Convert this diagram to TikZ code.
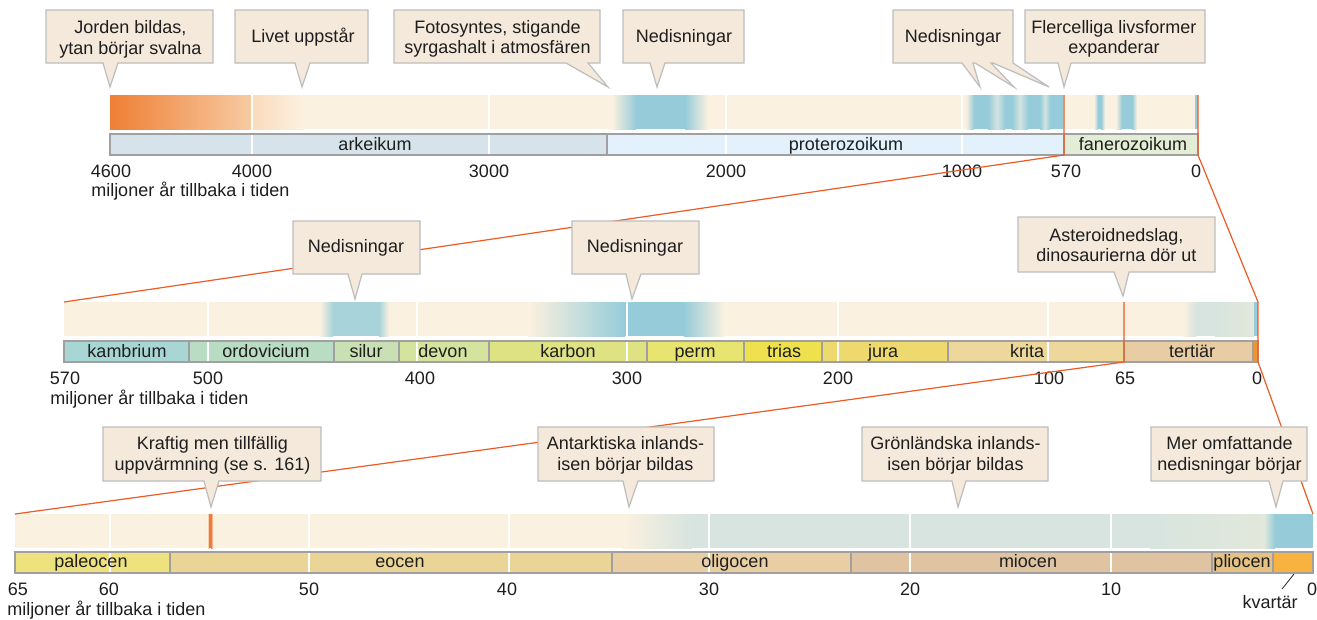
\documentclass[tikz,border=0pt]{standalone}
\usepackage{fontspec}
\setmainfont{Liberation Sans}
\definecolor{bandbg}{HTML}{FBF1E0}
\definecolor{ice}{HTML}{96CCD9}
\definecolor{icetwo}{HTML}{A8D3DB}
\definecolor{icepale}{HTML}{D3E3E0}
\definecolor{icepaletwo}{HTML}{D7E4DF}
\definecolor{icepalethree}{HTML}{E2E8DB}
\definecolor{orA}{HTML}{EF7F35}
\definecolor{orB}{HTML}{F7CBA3}
\definecolor{orC}{HTML}{FADBBD}
\definecolor{petm}{HTML}{F07A38}
\definecolor{zoomor}{HTML}{EE5A24}
\definecolor{callfill}{HTML}{F4E9DB}
\definecolor{callline}{HTML}{BDBDBD}
\definecolor{barline}{HTML}{A0A0A0}
\definecolor{txt}{HTML}{1E1E1E}
\definecolor{arch}{HTML}{D6E3EA}
\definecolor{prot}{HTML}{E2F1FB}
\definecolor{phan}{HTML}{E3EDD6}
\definecolor{kamb}{HTML}{A8D6D4}
\definecolor{ordo}{HTML}{B9DDC3}
\definecolor{silu}{HTML}{C8E0B3}
\definecolor{devo}{HTML}{D4E39E}
\definecolor{karb}{HTML}{DEE283}
\definecolor{perm}{HTML}{E8E470}
\definecolor{tria}{HTML}{EFE04D}
\definecolor{jura}{HTML}{EED96E}
\definecolor{krit}{HTML}{EED79A}
\definecolor{tert}{HTML}{E8CCA3}
\definecolor{kvarA}{HTML}{F0952E}
\definecolor{pale}{HTML}{EEE27E}
\definecolor{eoce}{HTML}{EAD596}
\definecolor{olig}{HTML}{E8CEA2}
\definecolor{mioc}{HTML}{E0C3A1}
\definecolor{plio}{HTML}{E5C283}
\definecolor{kvarB}{HTML}{F8B23F}
\newcommand\lab{\fontsize{13.5}{15.5}\selectfont}
\newcommand\grad[6]{\shade[left color=#5, right color=#6] (#1,#3) rectangle (#2,#4);}
\tikzset{
  callout/.style={fill=callfill, draw=callline, line width=0.9pt, line join=miter},
  lab/.style={text=txt, font=\lab, inner sep=0pt, anchor=base},
  period/.style={draw=barline, line width=0.8pt},
  whitetick/.style={draw=white, line width=1.5pt},
  zoomline/.style={draw=zoomor, line width=0.9pt, line join=miter},
}
\begin{document}
\begin{tikzpicture}[x=0.75pt, y=-0.75pt]
\useasboundingbox[fill=white] (0,0) rectangle (1317,619);

% ================= TOP TIMELINE =================
\fill[bandbg] (110,95) rectangle (1198,129);
\grad{110}{252}{95}{129}{orA}{orB}
\grad{252}{304}{95}{129}{orC}{bandbg}
\grad{612}{636}{95}{129}{bandbg}{ice}
\fill[ice] (636,95) rectangle (685,129);
\grad{685}{708}{95}{129}{ice}{bandbg}
\grad{966}{974}{95}{129}{bandbg}{ice}
\fill[ice] (974,95) rectangle (1063,129);
\grad{988}{997}{95}{129}{ice}{icepale}
\grad{997}{1005}{95}{129}{icepale}{ice}
\grad{1012}{1020}{95}{129}{ice}{icepale}
\grad{1020}{1028}{95}{129}{icepale}{ice}
\grad{1040}{1045}{95}{129}{ice}{icepale}
\grad{1045}{1050}{95}{129}{icepale}{ice}
\grad{1094}{1098}{95}{129}{bandbg}{ice}
\fill[ice] (1098,95) rectangle (1101,129);
\grad{1101}{1105}{95}{129}{ice}{bandbg}
\grad{1116}{1122}{95}{129}{bandbg}{ice}
\fill[ice] (1122,95) rectangle (1132,129);
\grad{1132}{1137}{95}{129}{ice}{bandbg}
\fill[ice] (1195,95) rectangle (1198,129);

\fill[arch] (110,134) rectangle (607,155);
\fill[prot] (607,134) rectangle (1064,155);
\fill[phan] (1064,134) rectangle (1198,155);
\foreach \x in {252,489,726,962} \draw[whitetick] (\x,95) -- (\x,155);
\draw[period] (110,134) rectangle (607,155);
\draw[period] (607,134) rectangle (1064,155);
\draw[period] (1064,134) rectangle (1198,155);

\node[lab] (arkeikum) at (375,150) {arkeikum};
\node[lab] (proterozoikum) at (846,150) {proterozoikum};
\node[lab] (fanerozoikum) at (1133,150) {fanerozoikum};

\node[lab] (t4600) at (111,177) {4600};
\node[lab] (t4000) at (252,177) {4000};
\node[lab] (t3000) at (489,177) {3000};
\node[lab] (t2000) at (726,177) {2000};
\node[lab] (t1000) at (962,177) {1000};
\node[lab] (t570) at (1066,177) {570};
\node[lab] (t0) at (1196,177) {0};
\node[lab, anchor=base west] (tunit) at (91,196) {miljoner år tillbaka i tiden};

% ================= MIDDLE TIMELINE =================
\fill[bandbg] (64,302) rectangle (1258,336);
\grad{320}{333}{302}{336}{bandbg}{icetwo}
\fill[icetwo] (333,302) rectangle (379,336);
\grad{379}{389}{302}{336}{icetwo}{bandbg}
\grad{528}{625}{302}{336}{bandbg}{ice}
\fill[ice] (625,302) rectangle (684,336);
\grad{684}{724}{302}{336}{ice}{bandbg}
\grad{1183}{1196}{302}{336}{bandbg}{icepaletwo}
\fill[icepaletwo] (1196,302) rectangle (1254,336);
\grad{1215}{1254}{302}{336}{icepaletwo}{icepalethree}
\fill[ice] (1254,302) rectangle (1258,336);

\fill[kamb] (64,341) rectangle (189,362);
\fill[ordo] (189,341) rectangle (334,362);
\fill[silu] (334,341) rectangle (399,362);
\fill[devo] (399,341) rectangle (489,362);
\fill[karb] (489,341) rectangle (647,362);
\fill[perm] (647,341) rectangle (744,362);
\fill[tria] (744,341) rectangle (822,362);
\fill[jura] (822,341) rectangle (948,362);
\fill[krit] (948,341) rectangle (1124,362);
\fill[tert] (1124,341) rectangle (1253,362);
\fill[kvarA] (1253,341) rectangle (1258,362);
\foreach \x in {208,417,627,838,1048} \draw[whitetick] (\x,302) -- (\x,362);
\foreach \a/\b in {64/189,189/334,334/399,399/489,489/647,647/744,744/822,822/948,948/1124,1124/1253,1253/1258}
  \draw[period] (\a,341) rectangle (\b,362);

\node[lab] (kambrium) at (127,357) {kambrium};
\node[lab] (ordovicium) at (266,357) {ordovicium};
\node[lab] (silur) at (366,357) {silur};
\node[lab] (devon) at (443,357) {devon};
\node[lab] (karbon) at (568,357) {karbon};
\node[lab] (permlab) at (695,357) {perm};
\node[lab] (trias) at (784,357) {trias};
\node[lab] (juralab) at (883,357) {jura};
\node[lab] (krita) at (1027,357) {krita};
\node[lab] (tertiar) at (1192,357) {tertiär};

\node[lab] (m570) at (65,384) {570};
\node[lab] (m500) at (208,384) {500};
\node[lab] (m400) at (420,384) {400};
\node[lab] (m300) at (627,384) {300};
\node[lab] (m200) at (838,384) {200};
\node[lab] (m100) at (1049,384) {100};
\node[lab] (m65) at (1125,384) {65};
\node[lab] (m0) at (1257,384) {0};
\node[lab, anchor=base west] (munit) at (50,404) {miljoner år tillbaka i tiden};

% ================= BOTTOM TIMELINE =================
\fill[bandbg] (15,514) rectangle (1313,548);
\grad{207.5}{209.3}{514}{548}{bandbg}{petm}
\fill[petm] (209.3,514) rectangle (211,548);
\grad{211}{213}{514}{548}{petm}{bandbg}
\grad{622}{692}{514}{548}{bandbg}{icepaletwo}
\fill[icepaletwo] (692,514) rectangle (1274,548);
\grad{1150}{1264}{514}{548}{icepaletwo}{icepalethree}
\grad{1264}{1275}{514}{548}{icepalethree}{ice}
\fill[ice] (1275,514) rectangle (1313,548);

\fill[pale] (15,552) rectangle (170,573);
\fill[eoce] (170,552) rectangle (612,573);
\fill[olig] (612,552) rectangle (851,573);
\fill[mioc] (851,552) rectangle (1212,573);
\fill[plio] (1212,552) rectangle (1273,573);
\fill[kvarB] (1273,552) rectangle (1313,573);
\foreach \x in {110,309,509,709,910,1111} \draw[whitetick] (\x,514) -- (\x,573);
\foreach \a/\b in {15/170,170/612,612/851,851/1212,1212/1273,1273/1313}
  \draw[period] (\a,552) rectangle (\b,573);

\node[lab] (paleocen) at (91,567.5) {paleocen};
\node[lab] (eocen) at (400,567.5) {eocen};
\node[lab] (oligocen) at (735,567.5) {oligocen};
\node[lab] (miocen) at (1028,567.5) {miocen};
\node[lab] (pliocen) at (1242,567.5) {pliocen};

\node[lab] (b65) at (18,595) {65};
\node[lab] (b60) at (109,595) {60};
\node[lab] (b50) at (309,595) {50};
\node[lab] (b40) at (507,595) {40};
\node[lab] (b30) at (709,595) {30};
\node[lab] (b20) at (910,595) {20};
\node[lab] (b10) at (1111,595) {10};
\node[lab] (b0) at (1312,595) {0};
\node[lab, anchor=base west] (bunit) at (7,615) {miljoner år tillbaka i tiden};
\node[lab] (kvartar) at (1270,608) {kvartär};
\coordinate (kvline) at (1294,574);
\draw[txt, line width=0.6pt] (1282,589) -- (kvline);

% ================= ZOOM CONNECTORS =================
\coordinate (z570top) at (1064,95);
\coordinate (z570bot) at (1064,155);
\coordinate (z0top) at (1198,95);
\coordinate (z0bot) at (1198,155);
\coordinate (zm570) at (64,302);
\coordinate (zm0top) at (1258,302);
\coordinate (zm0bot) at (1258,362);
\coordinate (zm65top) at (1124,302);
\coordinate (zm65bot) at (1124,362);
\coordinate (zb65) at (15,514);
\coordinate (zb0) at (1313,514);
\draw[zoomline] (z570top) -- (z570bot) -- (zm570);
\draw[zoomline] (z0top) -- (z0bot) -- (zm0top) -- (zm0bot) -- (zb0);
\draw[zoomline] (zm65top) -- (zm65bot) -- (zb65);

% ================= CALLOUTS =================
% top row
\draw[callout] (46,10) -- (213,10) -- (213,63) -- (118,63) -- (110,87) -- (103,63) -- (46,63) -- cycle;
\node[lab] (c1a) at (130.5,33.3) {Jorden bildas,};
\node[lab] (c1b) at (130.5,54) {ytan börjar svalna};
\draw[callout] (235,10) -- (368,10) -- (368,63) -- (310,63) -- (302,87) -- (295,63) -- (235,63) -- cycle;
\node[lab] (c2) at (303,42) {Livet uppstår};
\draw[callout] (394,10) -- (600,10) -- (600,63) -- (588,63) -- (608,87) -- (566,63) -- (394,63) -- cycle;
\node[lab] (c3a) at (497.5,33) {Fotosyntes, stigande};
\node[lab] (c3b) at (497.5,53.5) {syrgashalt i atmosfären};
\draw[callout] (623,10) -- (744,10) -- (744,63) -- (665,63) -- (657,87) -- (650,63) -- (623,63) -- cycle;
\node[lab] (c4) at (684,42.5) {Nedisningar};
\draw[callout] (893,10) -- (1013,10) -- (1013,63) -- (1049,87) -- (993,63) -- (991,63) -- (1014,87) -- (975,63) -- (973,63) -- (980,87) -- (962,63) -- (893,63) -- cycle;
\node[lab] (c5) at (953,42.5) {Nedisningar};
\draw[callout] (1025,10) -- (1205,10) -- (1205,63) -- (1071,63) -- (1064,87) -- (1058,63) -- (1025,63) -- cycle;
\node[lab] (c6a) at (1114,33.3) {Flercelliga livsformer};
\node[lab] (c6b) at (1114,53.5) {expanderar};
% middle row
\draw[callout] (293,221) -- (420,221) -- (420,274) -- (362,274) -- (355,299) -- (348,274) -- (293,274) -- cycle;
\node[lab] (c7) at (356,252.7) {Nedisningar};
\draw[callout] (572,221) -- (699,221) -- (699,274) -- (641,274) -- (632,299) -- (626,274) -- (572,274) -- cycle;
\node[lab] (c8) at (635,252.7) {Nedisningar};
\draw[callout] (1018,217) -- (1215,217) -- (1215,272) -- (1129,272) -- (1123,296) -- (1114,272) -- (1018,272) -- cycle;
\node[lab] (c9a) at (1116.3,241.7) {Asteroidnedslag,};
\node[lab] (c9b) at (1116.3,261.7) {dinosaurierna dör ut};
% bottom row
\draw[callout] (103,427) -- (321,427) -- (321,481) -- (219,481) -- (211,507) -- (204,481) -- (103,481) -- cycle;
\node[lab] (c10a) at (212.5,449.3) {Kraftig men tillfällig};
\node[lab] (c10b) at (212.5,470) {uppvärmning (se s. 161)};
\draw[callout] (538,427) -- (714,427) -- (714,481) -- (638,481) -- (629,507) -- (623,481) -- (538,481) -- cycle;
\node[lab] (c11a) at (625.5,449.3) {Antarktiska inlands-};
\node[lab] (c11b) at (625.5,470) {isen börjar bildas};
\draw[callout] (862,427) -- (1048,427) -- (1048,481) -- (966,481) -- (958,507) -- (952,481) -- (862,481) -- cycle;
\node[lab] (c12a) at (955.5,449) {Grönländska inlands-};
\node[lab] (c12b) at (955.5,470) {isen börjar bildas};
\draw[callout] (1151,427) -- (1307,427) -- (1307,481) -- (1283,481) -- (1276,507) -- (1269,481) -- (1151,481) -- cycle;
\node[lab] (c13a) at (1229.5,449.3) {Mer omfattande};
\node[lab] (c13b) at (1229.5,470) {nedisningar börjar};
\end{tikzpicture}
\end{document}
